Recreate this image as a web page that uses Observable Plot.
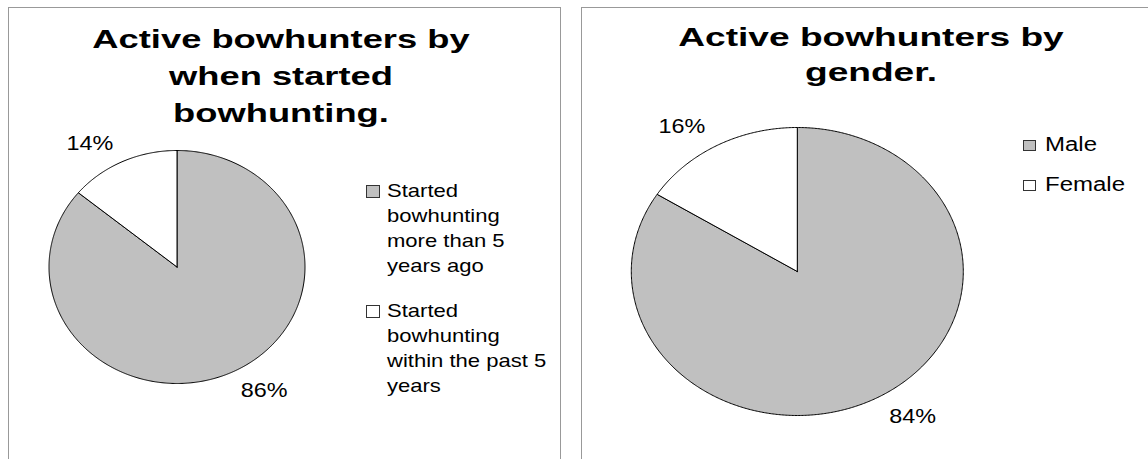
<!DOCTYPE html>
<html><head><meta charset="utf-8">
<script src="https://cdn.jsdelivr.net/npm/d3@7"></script>
<script src="https://cdn.jsdelivr.net/npm/@observablehq/plot@0.6"></script>
<style>
html,body{margin:0;padding:0;background:#fff;}
#root{position:relative;width:1148px;height:459px;overflow:hidden;font-family:"Liberation Sans",Arial,Helvetica,sans-serif;color:#000;}
.panel{position:absolute;box-sizing:border-box;border:1px solid #999;border-bottom:none;}
.title{position:absolute;font-weight:bold;text-align:center;white-space:pre;transform-origin:50% 0;}
.plotwrap{position:absolute;top:0;}
.legend{position:absolute;display:flex;flex-direction:column;}
.entry{position:relative;}
.sw{position:absolute;left:0;box-sizing:border-box;border:1px solid #333;}
.lt{display:block;transform-origin:0 0;white-space:pre;}
</style></head><body><div id="root"></div>
<script>
// ---- data ----
const leftTitle = ["Active bowhunters by", "when started", "bowhunting."];
const leftCategories = ["Started bowhunting more than 5 years ago", "Started bowhunting within the past 5 years"];
const leftLegendText = ["Started\nbowhunting\nmore than 5\nyears ago", "Started\nbowhunting\nwithin the past 5\nyears"];
const leftValues = [86, 14];

const rightTitle = ["Active bowhunters by", "gender."];
const rightCategories = ["Male", "Female"];
const rightLegendText = ["Male", "Female"];
const rightValues = [84, 16];

const sliceFills = ["#c0c0c0", "#ffffff"];

// ---- helpers ----
function slicePoints(cats, values) {
  const total = d3.sum(values);
  const pts = [];
  let a0 = 0;
  cats.forEach((c, i) => {
    const a1 = a0 + values[i] / total * 2 * Math.PI;
    const n = Math.max(2, Math.ceil((a1 - a0) / (Math.PI / 360)));
    pts.push({cat: c, x: 0, y: 0});
    for (let k = 0; k <= n; k++) {
      const a = a0 + (a1 - a0) * k / n;
      pts.push({cat: c, x: Math.sin(a), y: Math.cos(a)});
    }
    pts.push({cat: c, x: 0, y: 0});
    a0 = a1;
  });
  return pts;
}
function sliceLabels(cats, values, r) {
  const total = d3.sum(values);
  let a0 = 0;
  return cats.map((c, i) => {
    const a1 = a0 + values[i] / total * 2 * Math.PI;
    const m = (a0 + a1) / 2;
    a0 = a1;
    return {cat: c, text: values[i] + "%", x: r * Math.sin(m), y: r * Math.cos(m), left: Math.sin(m) < 0};
  });
}
function stretchText(svg, s) {
  svg.querySelectorAll("text").forEach(t => {
    const tr = t.getAttribute("transform");
    if (tr) t.setAttribute("transform", tr + ` scale(${s},1)`);
    else {
      const x = +t.getAttribute("x") || 0, y = +t.getAttribute("y") || 0;
      t.removeAttribute("x"); t.removeAttribute("y");
      t.setAttribute("transform", `translate(${x},${y}) scale(${s},1)`);
    }
  });
}

const root = document.getElementById("root");

function panel(cfg) {
  const p = document.createElement("div");
  p.className = "panel";
  Object.assign(p.style, {left: cfg.box[0] + "px", top: cfg.box[1] + "px", width: cfg.box[2] + "px", height: cfg.box[3] + "px"});
  root.appendChild(p);

  const pts = slicePoints(cfg.cats, cfg.values);
  const labs = sliceLabels(cfg.cats, cfg.values, cfg.labelR);
  const chart = Plot.plot({
    width: cfg.plotW, height: 459,
    style: {background: "none", overflow: "visible"},
    x: {domain: [-1, 1], range: cfg.xRange, axis: null},
    y: {domain: [-1, 1], range: cfg.yRange, axis: null},
    color: {domain: cfg.cats, range: sliceFills},
    marks: [
      Plot.line(pts, {x: "x", y: "y", z: "cat", fill: "cat", stroke: "#000", strokeWidth: 1, strokeLinejoin: "round"}),
      Plot.text(labs.filter(d => d.left), {x: "x", y: "y", text: "text", textAnchor: "end", lineAnchor: "middle", fontSize: cfg.labelSize, fontFamily: "Liberation Sans, Arial, sans-serif"}),
      Plot.text(labs.filter(d => !d.left), {x: "x", y: "y", text: "text", textAnchor: "start", lineAnchor: "middle", fontSize: cfg.labelSize, fontFamily: "Liberation Sans, Arial, sans-serif"})
    ]
  });
  stretchText(chart, cfg.labelStretch);
  const w = document.createElement("div");
  w.className = "plotwrap";
  w.style.left = cfg.plotX + "px";
  w.appendChild(chart);
  root.appendChild(w);

  const t = document.createElement("div");
  t.className = "title";
  t.textContent = cfg.title.join("\n");
  Object.assign(t.style, {left: (cfg.titleCenter - 300) + "px", width: "600px", top: cfg.titleTop + "px", fontSize: cfg.titleSize + "px", lineHeight: cfg.titleLH + "px", transform: `scaleX(${cfg.titleStretch})`});
  root.appendChild(t);

  const L = cfg.legend;
  const lg = document.createElement("div");
  lg.className = "legend";
  Object.assign(lg.style, {left: L.left + "px", top: L.top + "px", rowGap: L.gap + "px", fontSize: L.fontSize + "px", lineHeight: L.lh + "px"});
  cfg.legendText.forEach((txt, i) => {
    const e = document.createElement("div");
    e.className = "entry";
    e.style.paddingLeft = L.textLeft + "px";
    const sw = document.createElement("span");
    sw.className = "sw";
    Object.assign(sw.style, {top: L.swTop + "px", width: L.swW + "px", height: L.swH + "px", background: sliceFills[i]});
    const tx = document.createElement("span");
    tx.className = "lt";
    tx.textContent = txt;
    tx.style.transform = `scaleX(${L.stretch})`;
    e.appendChild(sw); e.appendChild(tx);
    lg.appendChild(e);
  });
  root.appendChild(lg);
}

panel({
  box: [8, 7, 553, 520], plotX: 0, plotW: 570,
  cats: leftCategories, values: leftValues, legendText: leftLegendText,
  xRange: [48.5, 304.5], yRange: [383, 150], labelR: 1.17, labelSize: 20, labelStretch: 1.17,
  title: leftTitle, titleCenter: 281, titleTop: 21, titleSize: 26.5, titleLH: 37, titleStretch: 1.37,
  legend: {left: 365.7, top: 178.2, fontSize: 19, lh: 25, gap: 20, stretch: 1.16, swW: 14, swH: 13, swTop: 6.8, textLeft: 21}
});
panel({
  box: [581, 7, 600, 520], plotX: 570, plotW: 578,
  cats: rightCategories, values: rightValues, legendText: rightLegendText,
  xRange: [60.8, 392.8], yRange: [415, 127], labelR: 1.15, labelSize: 20, labelStretch: 1.17,
  title: rightTitle, titleCenter: 870.5, titleTop: 20.3, titleSize: 26.5, titleLH: 35, titleStretch: 1.4,
  legend: {left: 1022.7, top: 131.6, fontSize: 20, lh: 25, gap: 15, stretch: 1.2, swW: 13, swH: 11, swTop: 8.4, textLeft: 22.3}
});
</script></body></html>
